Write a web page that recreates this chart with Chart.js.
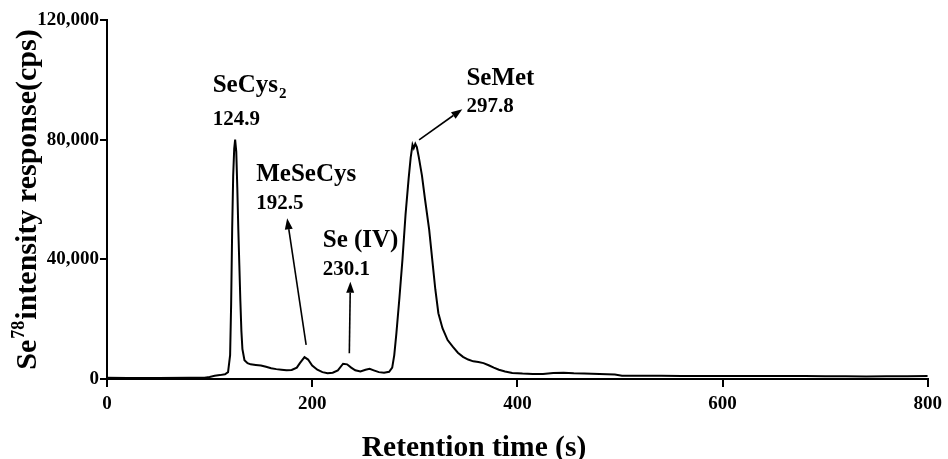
<!DOCTYPE html>
<html>
<head>
<meta charset="utf-8">
<script src="https://cdn.jsdelivr.net/npm/chart.js@4/dist/chart.umd.min.js"></script>
<style>
  html, body { margin: 0; padding: 0; background: #fff; }
  #wrap { width: 948px; height: 459px; position: relative; }
</style>
</head>
<body>
<div id="wrap"><canvas id="c" width="948" height="459"></canvas></div>
<script>
// ---- Data ----
const retentionTimes = [0, 20, 50, 80, 95, 100, 105, 110, 115, 118, 120, 121, 122, 123, 124, 124.9, 126, 127, 128, 129, 130, 131, 132, 134, 137, 140, 145, 150, 155, 160, 165, 170, 175, 180, 185, 188, 192.5, 196, 200, 205, 210, 215, 220, 225, 230.1, 234, 238, 242, 247, 252, 256, 260, 265, 270, 275, 278, 280, 282, 285, 288, 291, 294, 296, 297.8, 299, 300.5, 302, 304, 307, 310, 314, 317, 320, 323, 327, 332, 337, 342, 347, 352, 357, 362, 367, 372, 377, 382, 388, 395, 405, 415, 425, 435, 445, 455, 465, 480, 495, 502, 520, 540, 560, 580, 600, 620, 650, 680, 700, 720, 740, 760, 780, 800];
const intensity = [400, 350, 350, 400, 450, 700, 1100, 1300, 1600, 2300, 8000, 25000, 50000, 68000, 77000, 80000, 76000, 64000, 50000, 38000, 26000, 16000, 10000, 6300, 5300, 4900, 4700, 4500, 4100, 3600, 3300, 3100, 2900, 3000, 3800, 5300, 7300, 6500, 4500, 3100, 2300, 1900, 2100, 2900, 5100, 4900, 3800, 2900, 2500, 3100, 3400, 2900, 2300, 2100, 2400, 3800, 8000, 15000, 27000, 40000, 55000, 67000, 74000, 78300, 77200, 78600, 77500, 74000, 68000, 60000, 50000, 40000, 30000, 22000, 17000, 13000, 10800, 8800, 7400, 6500, 5900, 5700, 5300, 4600, 3800, 3100, 2500, 2000, 1800, 1700, 1650, 2000, 2100, 1900, 1800, 1700, 1500, 1100, 1050, 1050, 1000, 1000, 1000, 1000, 980, 1000, 950, 900, 850, 900, 950, 1000];

const xTicks = [0, 200, 400, 600, 800];
const yTicks = [0, 40000, 80000, 120000];

// Peak annotations
const peakNames = ['SeCys', 'MeSeCys', 'Se (IV)', 'SeMet'];
const peakNameSubs = ['2', '', '', ''];
const peakTimeLabels = ['124.9', '192.5', '230.1', '297.8'];
const labelAnchorT = [103, 145.5, 210.3, 350.3];
const nameAnchorV = [96100, 66300, 44050, 98300];
const numberAnchorV = [84960, 56760, 34790, 89410];

// Arrows (tail -> head)
const arrowFromT = [194.1, 236.2, 304.2];
const arrowFromV = [11400, 8600, 79950];
const arrowToT = [175.6, 237.2, 346.3];
const arrowToV = [53700, 32500, 90200];

const yTitleMain = 'Se';
const yTitleSup = '78';
const yTitleRest = 'intensity response(cps)';
const xTitle = 'Retention time (s)';

// ---- Rendering ----
const FONT = "'Liberation Serif', 'Times New Roman', serif";

const annotationPlugin = {
  id: 'peakAnnotations',
  afterDraw(chart) {
    const ctx = chart.ctx;
    const xs = chart.scales.x, ys = chart.scales.y;
    ctx.save();
    ctx.fillStyle = '#000';
    ctx.strokeStyle = '#000';
    ctx.textAlign = 'left';
    ctx.textBaseline = 'alphabetic';
    // labels
    for (let i = 0; i < peakNames.length; i++) {
      const px = xs.getPixelForValue(labelAnchorT[i]);
      ctx.font = 'bold 25px ' + FONT;
      const ny = ys.getPixelForValue(nameAnchorV[i]);
      ctx.fillText(peakNames[i], px, ny);
      if (peakNameSubs[i]) {
        const w = ctx.measureText(peakNames[i]).width;
        ctx.font = 'bold 15px ' + FONT;
        ctx.fillText(peakNameSubs[i], px + w + 1, ny + 6);
      }
      ctx.font = 'bold 21px ' + FONT;
      ctx.fillText(peakTimeLabels[i], px, ys.getPixelForValue(numberAnchorV[i]));
    }
    // arrows
    ctx.lineWidth = 1.6;
    for (let i = 0; i < arrowFromT.length; i++) {
      const x1 = xs.getPixelForValue(arrowFromT[i]), y1 = ys.getPixelForValue(arrowFromV[i]);
      const x2 = xs.getPixelForValue(arrowToT[i]), y2 = ys.getPixelForValue(arrowToV[i]);
      const ang = Math.atan2(y2 - y1, x2 - x1);
      const hl = 11, hw = 4;
      const bx = x2 - hl * Math.cos(ang), by = y2 - hl * Math.sin(ang);
      ctx.beginPath();
      ctx.moveTo(x1, y1);
      ctx.lineTo(bx, by);
      ctx.stroke();
      ctx.beginPath();
      ctx.moveTo(x2, y2);
      ctx.lineTo(bx + hw * Math.sin(ang), by - hw * Math.cos(ang));
      ctx.lineTo(bx - hw * Math.sin(ang), by + hw * Math.cos(ang));
      ctx.closePath();
      ctx.fill();
    }
    // y title (rotated, with superscript)
    const ca = chart.chartArea;
    ctx.save();
    const cy = (ca.top + ca.bottom) / 2;
    ctx.translate(ca.left - 71, cy);
    ctx.rotate(-Math.PI / 2);
    ctx.font = 'bold 30px ' + FONT;
    const w1 = ctx.measureText(yTitleMain).width;
    const w3 = ctx.measureText(yTitleRest).width;
    ctx.font = 'bold 18px ' + FONT;
    const w2 = ctx.measureText(yTitleSup).width;
    let sx = -(w1 + w2 + 2 + w3) / 2;
    ctx.font = 'bold 30px ' + FONT;
    ctx.fillText(yTitleMain, sx, 0);
    sx += w1 + 1;
    ctx.font = 'bold 18px ' + FONT;
    ctx.fillText(yTitleSup, sx, -12);
    sx += w2 + 1;
    ctx.font = 'bold 30px ' + FONT;
    ctx.fillText(yTitleRest, sx, 0);
    ctx.restore();
    // x title
    ctx.font = 'bold 29.5px ' + FONT;
    ctx.textAlign = 'center';
    ctx.fillText(xTitle, chart.width / 2, chart.height - 3);
    ctx.restore();
  }
};

new Chart(document.getElementById('c'), {
  type: 'line',
  data: {
    datasets: [{
      data: retentionTimes.map((t, i) => ({ x: t, y: intensity[i] })),
      borderColor: '#000',
      borderWidth: 2,
      pointRadius: 0,
      tension: 0,
      fill: false
    }]
  },
  options: {
    responsive: false,
    animation: false,
    layout: { padding: { top: 20, right: 18, left: 0, bottom: 0 } },
    plugins: { legend: { display: false }, tooltip: { enabled: false }, title: { display: false } },
    scales: {
      x: {
        type: 'linear',
        min: 0, max: 800,
        afterBuildTicks: s => { s.ticks = xTicks.map(v => ({ value: v })); },
        afterFit: s => { s.height = 80; },
        ticks: {
          color: '#000',
          font: { family: FONT, size: 19, weight: 'bold' },
          padding: 6,
          maxRotation: 0,
          callback: v => String(v)
        },
        grid: { drawOnChartArea: false, drawTicks: true, tickLength: 8, color: '#000', lineWidth: 2 },
        border: { color: '#000', width: 2 }
      },
      y: {
        type: 'linear',
        min: 0, max: 120000,
        afterBuildTicks: s => { s.ticks = yTicks.map(v => ({ value: v })); },
        afterFit: s => { s.width = 107; },
        ticks: {
          color: '#000',
          font: { family: FONT, size: 19, weight: 'bold' },
          padding: 1,
          callback: v => Number(v).toLocaleString('en-US')
        },
        grid: { drawOnChartArea: false, drawTicks: true, tickLength: 7, color: '#000', lineWidth: 2 },
        border: { color: '#000', width: 2 }
      }
    }
  },
  plugins: [annotationPlugin]
});
</script>
</body>
</html>
